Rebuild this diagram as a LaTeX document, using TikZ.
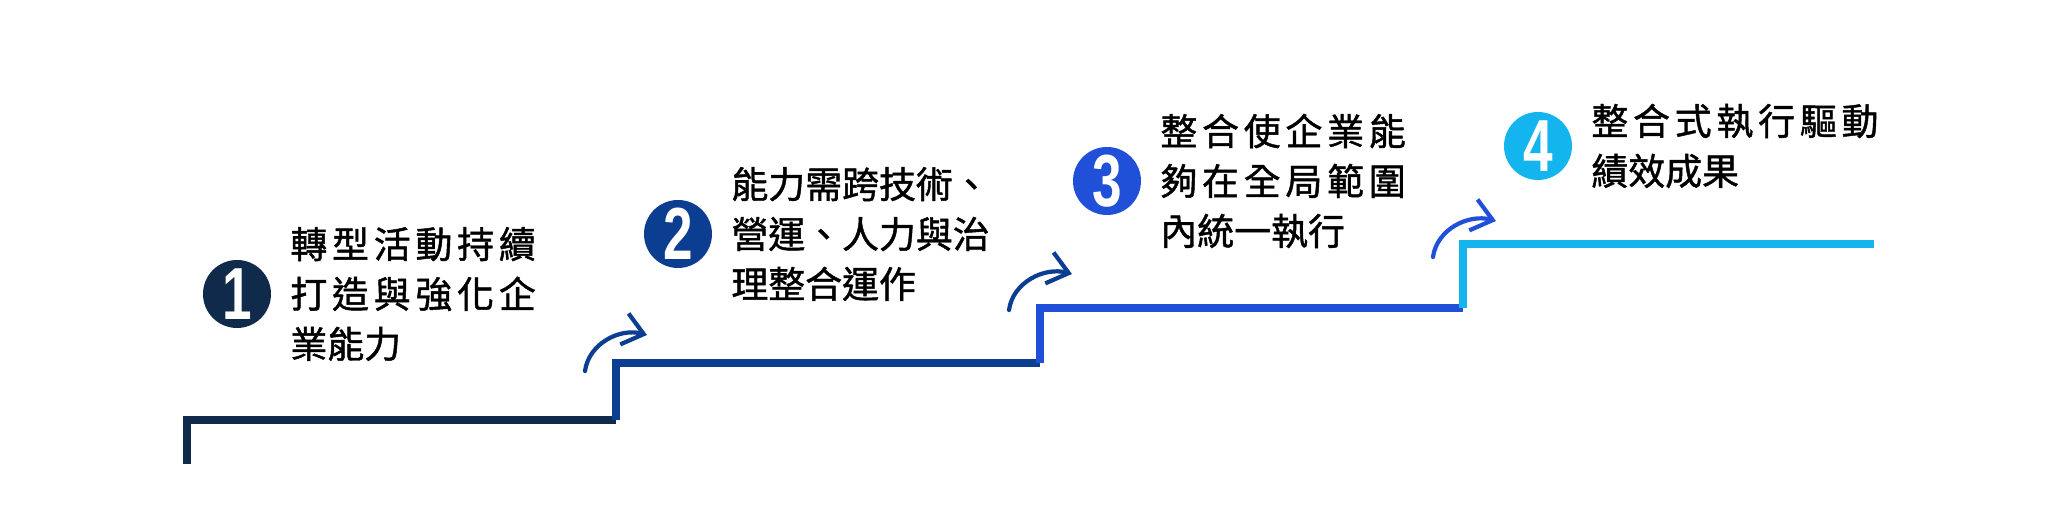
\documentclass[tikz,border=0pt]{standalone}
\usepackage{fontspec}
\usepackage{graphicx}
\newfontfamily\cjk[FakeBold=1.2]{Noto Sans CJK TC}
\newfontfamily\cjkwide[LetterSpace=13,FakeBold=1.2]{Noto Sans CJK TC}
\newfontfamily\numfont{Liberation Sans}
\usetikzlibrary{positioning,arrows.meta}
\definecolor{stepone}{HTML}{0F2A4A}
\definecolor{steptwo}{HTML}{0B3D91}
\definecolor{stepthree}{HTML}{2050D8}
\definecolor{stepfour}{HTML}{14B5EE}
\tikzset{
  stepline/.style={line width=0.08cm, line join=miter},
  num/.style={circle, minimum size=0.68cm, inner sep=0pt, text=white,
    font=\numfont\bfseries\fontsize{21}{21}\selectfont},
  desc/.style={inner sep=0pt, align=left, right=0.18cm of #1,
    font=\cjk\fontsize{10.5}{14.2}\selectfont},
  turn/.style={line width=1.2pt, line cap=round,
    -{Straight Barb[length=2mm,width=3.2mm]}}
}
\begin{document}
\begin{tikzpicture}
\useasboundingbox (0,0) rectangle (20.48,5.23);
% the four steps
\draw[stepline,stepone] (1.87,0.59) -- (1.87,1.03) -- (6.16,1.03);
\draw[stepline,steptwo] (6.16,1.03) -- (6.16,1.60) -- (10.40,1.60);
\draw[stepline,stepthree] (10.40,1.60) -- (10.40,2.15) -- (14.63,2.15);
\draw[stepline,stepfour] (14.63,2.15) -- (14.63,2.79) -- (18.74,2.79);
% numbers
\node[num,fill=stepone] (c1) at (2.37,2.29) {\scalebox{0.72}[1]{1}};
\node[num,fill=steptwo] (c2) at (6.78,2.89) {\scalebox{0.72}[1]{2}};
\node[num,fill=stepthree] (c3) at (11.07,3.42) {\scalebox{0.72}[1]{3}};
\node[num,fill=stepfour] (c4) at (15.38,3.77) {\scalebox{0.72}[1]{4}};
% texts
\node[desc=c1] (t1) {{\cjkwide 轉型活動持續}\\{\cjkwide 打造與強化企}\\業能力};
\node[desc=c2] (t2) {能力需跨技術、\\營運、人力與治\\理整合運作};
\node[desc=c3] (t3) {{\cjkwide 整合使企業能}\\{\cjkwide 夠在全局範圍}\\內統一執行};
\node[desc=c4] (t4) {{\cjkwide 整合式執行驅動}\\績效成果};
% arrows up the steps
\coordinate (a1) at (5.85,1.52);
\coordinate (b1) at (6.47,1.88);
\coordinate (a2) at (10.09,2.13);
\coordinate (b2) at (10.72,2.49);
\coordinate (a3) at (14.33,2.66);
\coordinate (b3) at (14.96,3.02);
\draw[turn,steptwo] (a1) to[out=82,in=165] (b1);
\draw[turn,steptwo] (a2) to[out=82,in=165] (b2);
\draw[turn,stepthree] (a3) to[out=82,in=165] (b3);
\end{tikzpicture}
\end{document}
